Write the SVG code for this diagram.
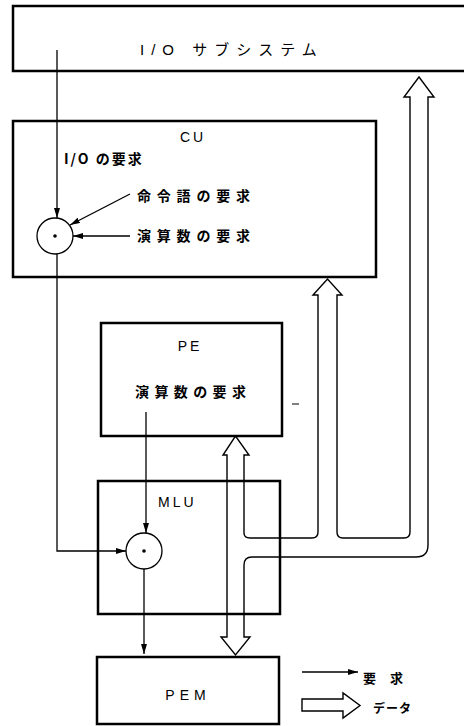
<svg xmlns="http://www.w3.org/2000/svg" width="464" height="726" viewBox="0 0 464 726">
<style>
.box{fill:#fff;stroke:#000;stroke-width:2.5}
.ln{fill:none;stroke:#000;stroke-width:1.3}
.pipe{fill:none;stroke:#000;stroke-width:1.4;stroke-linejoin:miter}
.t{font-family:"Liberation Sans","Noto Sans CJK JP",sans-serif;fill:#000}
.j{font-family:"Noto Sans CJK JP",sans-serif;fill:#000;font-weight:bold}
</style>
<defs>
<marker id="ah" viewBox="0 0 10 6" refX="10" refY="3" markerWidth="10" markerHeight="6" markerUnits="userSpaceOnUse" orient="auto">
<path d="M0,0 L10,3 L0,6 Z" fill="#000"/>
</marker>
</defs>
<g id="io">
<rect class="box" x="13" y="6" width="470" height="65"/>
<text class="t" x="140" y="55" font-size="15" letter-spacing="7">I/O サブシステム</text>
</g>
<g id="cu">
<rect class="box" x="13" y="121" width="363" height="156"/>
<text class="t" x="193" y="142" font-size="14" text-anchor="middle" letter-spacing="3">CU</text>
<text class="j" x="64" y="164" font-size="14" letter-spacing="2">I/O の要求</text>
<text class="j" x="137" y="201" font-size="14" letter-spacing="5.8">命令語の要求</text>
<text class="j" x="137" y="241" font-size="14" letter-spacing="5.8">演算数の要求</text>
<circle cx="55" cy="236" r="18" fill="#fff" stroke="#000" stroke-width="1.3"/>
<circle cx="55" cy="236" r="1.8" fill="#000"/>
</g>
<g id="pe">
<rect class="box" x="101" y="323" width="181" height="113"/>
<text class="t" x="190" y="351" font-size="14" text-anchor="middle" letter-spacing="3">PE</text>
<text class="j" x="135" y="397" font-size="14" letter-spacing="5.4">演算数の要求</text>
<line x1="292" y1="404" x2="299" y2="404" stroke="#000" stroke-width="1"/>
</g>
<g id="mlu">
<rect class="box" x="98" y="481" width="182" height="133"/>
<text class="t" x="158" y="507" font-size="14" letter-spacing="3">MLU</text>
<circle cx="144" cy="551" r="18" fill="#fff" stroke="#000" stroke-width="1.3"/>
<circle cx="144" cy="551" r="1.8" fill="#000"/>
</g>
<g id="pem">
<rect class="box" x="97" y="657" width="182" height="67"/>
<text class="t" x="188" y="700" font-size="14" text-anchor="middle" letter-spacing="5">PEM</text>
</g>
<g id="connectors">
<line class="ln" x1="57" y1="50" x2="57" y2="218" marker-end="url(#ah)"/>
<line class="ln" x1="130" y1="194" x2="70" y2="225" marker-end="url(#ah)"/>
<line class="ln" x1="130" y1="236" x2="73" y2="236" marker-end="url(#ah)"/>
<path class="ln" d="M57,254 L57,551 L126,551" marker-end="url(#ah)"/>
<line class="ln" x1="146" y1="412" x2="146" y2="533" marker-end="url(#ah)"/>
<line class="ln" x1="144" y1="569" x2="144" y2="654" marker-end="url(#ah)"/>
<path class="pipe" d="M227,637 L227,455 L223,455 L235.5,436 L249,455 L244,455 L244,533 Q244,538 250,538 L312,538 Q318,538 318,532 L318,295 L313,295 L327.5,279 L342,295 L337,295 L337,532 Q337,538 343,538 L404,538 Q410,538 410,532 L410,97 L404,97 L419,77 L434,97 L428,97 L428,545 Q428,557 416,557 L252,557 Q244,557 244,565 L244,637 L250,637 L235.5,655 L221,637 Z"/>
</g>
<g id="legend">
<line class="ln" x1="302" y1="672" x2="358" y2="672" marker-end="url(#ah)"/>
<text class="j" x="363" y="683" font-size="13" letter-spacing="14">要求</text>
<path class="pipe" d="M302,699 L343,699 L343,693 L360,705.5 L343,718 L343,711 L302,711 Z"/>
<text class="j" x="373" y="713" font-size="12" letter-spacing="1">データ</text>
</g>
</svg>
